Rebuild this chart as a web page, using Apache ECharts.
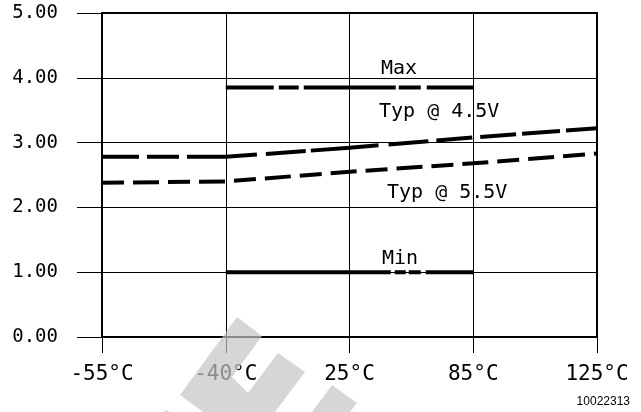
<!DOCTYPE html>
<html>
<head>
<meta charset="utf-8">
<script src="https://cdn.jsdelivr.net/npm/echarts@6/dist/echarts.min.js"></script>
<style>
  html, body { margin: 0; padding: 0; background: #fff; }
  #chart { width: 641px; height: 412px; }
</style>
</head>
<body>
<div id="chart"></div>
<script>
// Temperature points along the x axis
const categories = ['-55°C', '-40°C', '25°C', '85°C', '125°C'];
// Y tick labels (0 to 5 in steps of 1)
const yTickLabels = ['0.00', '1.00', '2.00', '3.00', '4.00', '5.00'];

// Series values per temperature (null where the curve is not drawn)
const maxValues   = [null, 3.85, 3.85, 3.85, null];
const typ45Values = [2.78, 2.78, 2.92, 3.08, 3.22];
const typ55Values = [2.38, 2.40, 2.55, 2.68, 2.83];
const minValues   = [null, 1.00, 1.00, 1.00, null];

const MONO = 'DejaVu Sans Mono';

const chart = echarts.init(document.getElementById('chart'), null, { renderer: 'canvas' });

function lineSeries(name, data, dash) {
  return {
    name: name,
    type: 'line',
    data: data,
    symbol: 'none',
    connectNulls: false,
    silent: true,
    z: 5,
    lineStyle: { color: '#000', width: 4, type: dash, cap: 'butt' }
  };
}

// Semi-transparent grey overlay shapes along the bottom edge
const overlayStyle = { fill: '#c4c4c4', opacity: 0.7 };
const overlay = [
  [[237, 317], [262, 336], [232, 377], [248, 393], [278, 353], [305, 372], [275, 412], [203, 412], [180, 395]],
  [[332, 385], [357, 403], [350, 412], [312, 412]],
  [[166, 410], [170, 412], [164, 412]]
].map(pts => ({
  type: 'polygon',
  z: 100,
  silent: true,
  shape: { points: pts },
  style: overlayStyle
}));

function note(text, x, y) {
  return {
    type: 'text',
    x: x, y: y,
    z: 50,
    silent: true,
    style: {
      text: text,
      font: '20px "' + MONO + '"',
      fill: '#000',
      textAlign: 'left',
      textVerticalAlign: 'middle'
    }
  };
}

chart.setOption({
  animation: false,
  backgroundColor: '#fff',
  grid: {
    left: 102, right: 44, top: 13, bottom: 75,
    show: true, borderColor: '#000', borderWidth: 2, backgroundColor: 'transparent'
  },
  xAxis: {
    type: 'category',
    data: categories,
    boundaryGap: false,
    axisLine: { lineStyle: { color: '#000', width: 2 } },
    axisTick: { show: true, length: 16, alignWithLabel: true, lineStyle: { color: '#000', width: 1 } },
    axisLabel: { margin: 27, color: '#000', fontFamily: MONO, fontSize: 21 },
    splitLine: { show: true, lineStyle: { color: '#000', width: 1 } }
  },
  yAxis: {
    type: 'value',
    min: 0, max: 5, interval: 1,
    axisLine: { show: true, lineStyle: { color: '#000', width: 2 } },
    axisTick: { show: true, length: 25, lineStyle: { color: '#000', width: 1 } },
    axisLabel: {
      margin: 44, color: '#000', fontFamily: MONO, fontSize: 19,
      formatter: v => yTickLabels[Math.round(v)]
    },
    splitLine: { show: true, lineStyle: { color: '#000', width: 1 } }
  },
  series: [
    lineSeries('Max', maxValues, [48, 5, 20, 5, 92, 3, 22, 6, 100]),
    lineSeries('Typ @ 4.5V', typ45Values, [37, 8, 32, 8, 70, 9, 40, 5, 68, 10, 40, 8, 36, 8, 36, 6, 38, 6, 40]),
    lineSeries('Typ @ 5.5V', typ55Values, [22, 9, 26, 9]),
    lineSeries('Min', minValues, [165, 4, 11, 3, 12, 5, 100])
  ],
  graphic: [
    note('Max', 381, 69),
    note('Typ @ 4.5V', 379, 112),
    note('Typ @ 5.5V', 387, 193),
    note('Min', 382, 259),
    {
      type: 'text',
      x: 630, y: 402,
      z: 50,
      silent: true,
      style: {
        text: '10022313',
        font: '12px "Liberation Sans"',
        fill: '#000',
        textAlign: 'right',
        textVerticalAlign: 'middle'
      }
    }
  ].concat(overlay)
});
</script>
</body>
</html>
